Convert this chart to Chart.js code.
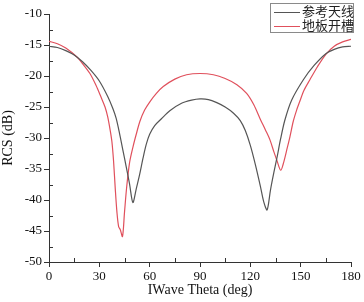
<!DOCTYPE html>
<html><head><meta charset="utf-8">
<script src="https://cdn.jsdelivr.net/npm/chart.js@4/dist/chart.umd.min.js"></script>
<style>
html,body{margin:0;padding:0;background:#fff;}
#wrap{position:relative;width:364px;height:302px;}
#legend{position:absolute;left:270px;top:3px;width:84px;height:30px;border:1px solid #8a8a8a;background:#fff;box-sizing:border-box;font-family:"Noto Sans CJK SC";font-size:13px;color:#222;}
#legend .row{position:absolute;left:3px;height:14px;line-height:14px;white-space:nowrap;}
#legend .ln{display:inline-block;width:26px;height:0;vertical-align:middle;margin-right:2px;}
</style></head>
<body><div id="wrap"><canvas id="c" width="364" height="302"></canvas>
<div id="legend"></div></div>
<script>
const seriesNames = ['参考天线', '地板开槽'];
const xTicks = [0, 30, 60, 90, 120, 150, 180];
const yTicks = [-50, -45, -40, -35, -30, -25, -20, -15, -10];
const refTheta = [0,5,10,15,20,25,30,35,38,40,42,44,46,48,50,52,54,56,58,60,63,67,72,79,85,90,95,100,105,110,114,117,120,123,126,128,130,132,134,136,138,140.6,144.6,151.6,158,165,170,175,180];
const refRCS = [-15.2,-15.4,-15.9,-16.6,-17.7,-19.1,-20.8,-23.3,-25.2,-26.8,-29.2,-31.9,-34.6,-37.4,-40.4,-38.2,-35.9,-33.3,-31.0,-29.4,-28.0,-26.9,-25.6,-24.4,-23.9,-23.7,-23.8,-24.3,-25.0,-26.0,-27.2,-28.8,-31.2,-34.3,-37.8,-40.3,-41.6,-38.4,-35.6,-33.0,-30.2,-27.1,-23.9,-20.6,-18.3,-16.4,-15.7,-15.3,-15.2];
const slotTheta = [0,5,10,16.5,20,24.4,28,31,33.4,35,36.5,37.5,38.5,39.5,40.5,41.5,42.5,43.8,45,46.3,48,50,52,54.2,57,60,64,68.1,75,82,90,98,105,112,117.8,122,126,129,131.7,134,135.7,138.1,140,142,143.6,145.6,147.6,149.6,152,155.5,160,165,170,175,180];
const slotRCS = [-14.4,-14.8,-15.5,-16.9,-18.0,-19.6,-21.5,-23.4,-25.0,-26.6,-28.8,-30.6,-33.8,-38.2,-42.0,-44.3,-44.8,-45.9,-42.0,-37.9,-34.0,-31.5,-29.4,-27.3,-25.5,-24.2,-22.8,-21.7,-20.5,-19.8,-19.6,-19.8,-20.4,-21.4,-22.8,-24.6,-27.0,-28.7,-30.3,-32.2,-33.5,-35.2,-33.8,-31.6,-29.8,-27.3,-25.5,-24.0,-22.3,-20.6,-18.5,-16.5,-15.2,-14.5,-14.1];
const colors = ['#555555', '#e0505c'];

const toPts = (xs, ys) => xs.map((x, i) => ({x: x, y: ys[i]}));

const minorTicks = {
  id: 'minorTicks',
  afterDraw(chart) {
    const ctx = chart.ctx, xs = chart.scales.x, ys = chart.scales.y;
    ctx.save();
    ctx.strokeStyle = '#333'; ctx.lineWidth = 1;
    ctx.beginPath();
    for (let i = 0; i < xTicks.length - 1; i++) {
      const px = Math.round(xs.getPixelForValue((xTicks[i] + xTicks[i+1]) / 2)) + 0.5;
      ctx.moveTo(px, ys.bottom); ctx.lineTo(px, ys.bottom - 4);
    }
    for (let i = 0; i < yTicks.length - 1; i++) {
      const py = Math.round(ys.getPixelForValue((yTicks[i] + yTicks[i+1]) / 2)) + 0.5;
      ctx.moveTo(xs.left, py); ctx.lineTo(xs.left + 4, py);
    }
    ctx.stroke();
    ctx.restore();
  }
};

new Chart(document.getElementById('c'), {
  type: 'scatter',
  data: {
    datasets: [
      {label: seriesNames[0], data: toPts(refTheta, refRCS), showLine: true, borderColor: colors[0], borderWidth: 1.2, pointRadius: 0, tension: 0.3},
      {label: seriesNames[1], data: toPts(slotTheta, slotRCS), showLine: true, borderColor: colors[1], borderWidth: 1.2, pointRadius: 0, tension: 0.3}
    ]
  },
  options: {
    responsive: false, animation: false,
    layout: {padding: {top: 14, right: 13, left: 0, bottom: 0}},
    plugins: {legend: {display: false}, tooltip: {enabled: false}},
    scales: {
      x: {
        type: 'linear', min: 0, max: 180,
        afterBuildTicks: s => { s.ticks = xTicks.map(v => ({value: v})); },
        afterFit: s => { s.height = 40; },
        grid: {display: true, drawOnChartArea: false, drawTicks: true, tickLength: 5, color: '#333'},
        border: {display: true, color: '#333', width: 1},
        ticks: {color: '#111', padding: 2, maxRotation: 0, font: {family: 'Liberation Serif', size: 13}},
        title: {display: true, text: 'IWave Theta (deg)', color: '#111', padding: {top: 0, bottom: 3}, font: {family: 'Liberation Serif', size: 14}}
      },
      y: {
        type: 'linear', min: -50, max: -10,
        afterBuildTicks: s => { s.ticks = yTicks.map(v => ({value: v})); },
        afterFit: s => { s.width = 49; },
        grid: {display: true, drawOnChartArea: false, drawTicks: true, tickLength: 5, color: '#333'},
        border: {display: true, color: '#333', width: 1},
        ticks: {color: '#111', padding: 2, font: {family: 'Liberation Serif', size: 13}},
        title: {display: true, text: 'RCS (dB)', color: '#111', padding: {top: 0, bottom: 0}, font: {family: 'Liberation Serif', size: 14}}
      }
    }
  },
  plugins: [minorTicks]
});

const lg = document.getElementById('legend');
seriesNames.forEach((n, i) => {
  const r = document.createElement('div');
  r.className = 'row';
  r.style.top = (i === 0 ? 0 : 14) + 'px';
  r.innerHTML = '<span class="ln" style="border-top:1.3px solid ' + colors[i] + '"></span>' + n;
  lg.appendChild(r);
});
</script></body></html>
